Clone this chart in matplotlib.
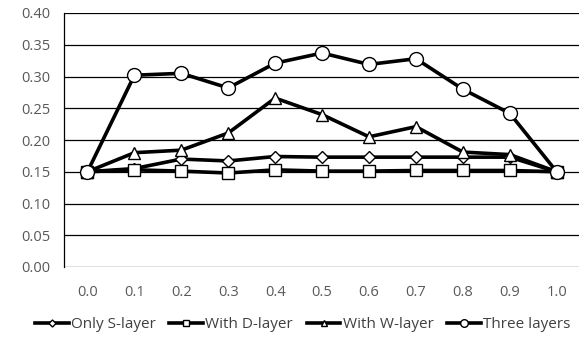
import matplotlib
matplotlib.use("Agg")
import matplotlib.pyplot as plt
import numpy as np

categories = ["0.0", "0.1", "0.2", "0.3", "0.4", "0.5", "0.6", "0.7", "0.8", "0.9", "1.0"]
only_s = [0.150, 0.155, 0.170, 0.167, 0.174, 0.173, 0.173, 0.173, 0.173, 0.173, 0.150]
with_d = [0.150, 0.153, 0.151, 0.148, 0.153, 0.151, 0.151, 0.152, 0.152, 0.152, 0.150]
with_w = [0.150, 0.180, 0.184, 0.211, 0.266, 0.240, 0.205, 0.221, 0.181, 0.177, 0.150]
three = [0.150, 0.302, 0.305, 0.282, 0.321, 0.337, 0.319, 0.328, 0.280, 0.242, 0.150]
yticks = [0.00, 0.05, 0.10, 0.15, 0.20, 0.25, 0.30, 0.35, 0.40]

plt.rcParams["font.family"] = ["Open Sans", "DejaVu Sans"]

fig = plt.figure(figsize=(5.79, 3.37), dpi=100)
ax = fig.add_axes([64 / 579, 1 - 267 / 337, 1 - 64 / 579 + 0.002, (267 - 13) / 337])

x = np.arange(len(categories))
series = [
    (only_s, "D", 6.5, "Only S-layer"),
    (with_d, "s", 9, "With D-layer"),
    (with_w, "^", 9, "With W-layer"),
    (three, "o", 10, "Three layers"),
]
for vals, mk, ms, lab in series:
    ax.plot(x, vals, color="black", lw=2.6, marker=mk, ms=ms,
            mfc="white", mec="black", mew=1.0, label=lab)

ax.set_xlim(-0.5, len(categories) - 0.5)
ax.set_ylim(0, 0.40)
ax.set_yticks(yticks)
ax.set_yticklabels([f"{v:.2f}" for v in yticks])
ax.set_xticks(x)
ax.set_xticklabels(categories)
ax.yaxis.grid(True, color="black", lw=0.9)
ax.set_axisbelow(True)
for s in ["top", "right", "bottom"]:
    ax.spines[s].set_visible(False)
ax.spines["left"].set_color("black")
ax.spines["left"].set_linewidth(0.9)
ax.tick_params(length=0, labelsize=10.5, labelcolor="#595959")
ax.tick_params(axis="y", pad=10)
ax.tick_params(axis="x", pad=13)

leg = fig.legend(loc="center", bbox_to_anchor=(0.523, 1 - 325 / 337), ncol=4,
                 frameon=False, fontsize=11, handlelength=2.2, handletextpad=0.15,
                 columnspacing=0.9, markerscale=0.55)
for t in leg.get_texts():
    t.set_color("#404040")

fig.savefig("out.png", dpi=100)
